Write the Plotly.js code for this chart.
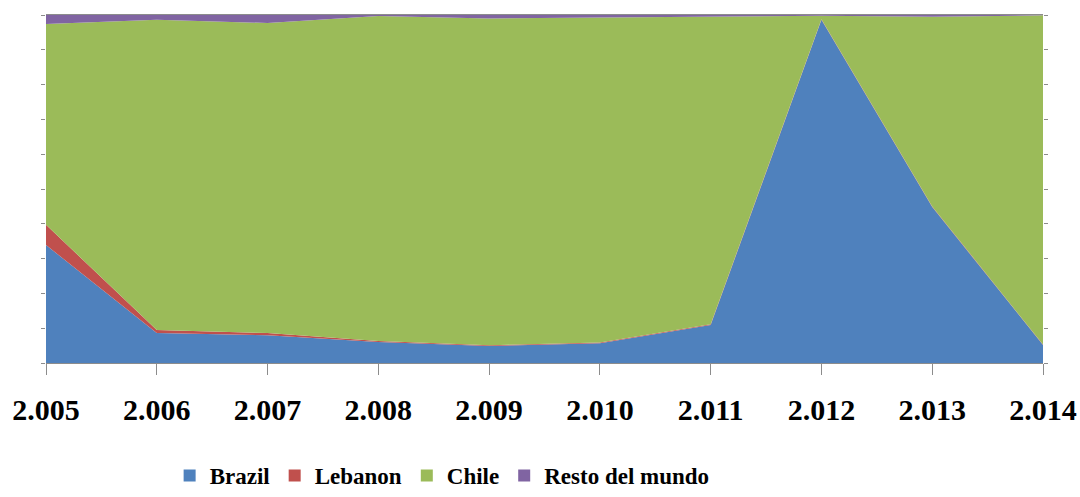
<!DOCTYPE html>
<html>
<head>
<meta charset="utf-8">
<script src="https://cdn.plot.ly/plotly-3.0.1.min.js"></script>
<style>html,body{margin:0;padding:0;background:#fff;}#chart{width:1080px;height:497px;}</style>
</head>
<body>
<div id="chart"></div>
<script>
const years = [2005, 2006, 2007, 2008, 2009, 2010, 2011, 2012, 2013, 2014];
const yearLabels = ["2.005", "2.006", "2.007", "2.008", "2.009", "2.010", "2.011", "2.012", "2.013", "2.014"];
const brazil  = [33.9, 8.6, 8.0, 6.0, 4.9, 5.7, 10.9, 98.6, 44.8, 5.2];
const lebanon = [5.8, 0.9, 0.6, 0.3, 0.2, 0.2, 0.2, 0.2, 0.2, 0.1];
const chile   = [57.7, 89.1, 89.1, 93.4, 93.9, 93.3, 88.4, 1.0, 54.5, 94.6];
const resto   = [2.6, 1.4, 2.3, 0.3, 1.0, 0.8, 0.5, 0.2, 0.5, 0.1];

const names = ["Brazil", "Lebanon", "Chile", "Resto del mundo"];
const colors = ["#4F81BD", "#C0504D", "#9BBB59", "#8064A2"];
const series = [brazil, lebanon, chile, resto];

const traces = [];
series.forEach((s, i) => {
  traces.push({
    type: "scatter", mode: "lines", x: years, y: s, name: names[i],
    stackgroup: "one", groupnorm: "percent",
    line: {width: 0, color: colors[i]}, fillcolor: colors[i],
    showlegend: false, hoverinfo: "skip"
  });
});
series.forEach((s, i) => {
  traces.push({
    type: "scatter", mode: "markers", x: [null], y: [null], name: "<b>" + names[i] + "</b>",
    marker: {symbol: "square", size: 12, color: colors[i]},
    showlegend: true
  });
});

const serif = "Liberation Serif";

const layout = {
  width: 1080, height: 497,
  margin: {l: 46, r: 37, t: 15, b: 134},
  paper_bgcolor: "#fff", plot_bgcolor: "#fff",
  showlegend: true,
  font: {family: serif, color: "#000"},
  legend: {
    orientation: "h", x: 0.124, xanchor: "left",
    yref: "container", y: 0, yanchor: "bottom",
    font: {family: serif, size: 23, color: "#000"},
    itemwidth: 30, tracegroupgap: 0, traceorder: "normal"
  },
  xaxis: {
    range: [2005, 2014], tickvals: years, ticktext: yearLabels,
    automargin: false,
    showgrid: false, zeroline: false,
    showline: true, linecolor: "#8c8c8c", linewidth: 1, mirror: true,
    ticks: "outside", ticklen: 11, tickcolor: "#8c8c8c", tickwidth: 1,
    ticklabelstandoff: 9,
    tickfont: {family: serif, size: 30, color: "#000", weight: "bold"}
  },
  yaxis: {
    range: [0, 100], dtick: 10, tick0: 0, automargin: false,
    showgrid: false, zeroline: false, showticklabels: false,
    showline: false, ticks: "outside", ticklen: 4, tickcolor: "#8c8c8c", tickwidth: 1,
    mirror: "ticks"
  }
};

Plotly.newPlot("chart", traces, layout, {displayModeBar: false, staticPlot: true});
</script>
</body>
</html>
